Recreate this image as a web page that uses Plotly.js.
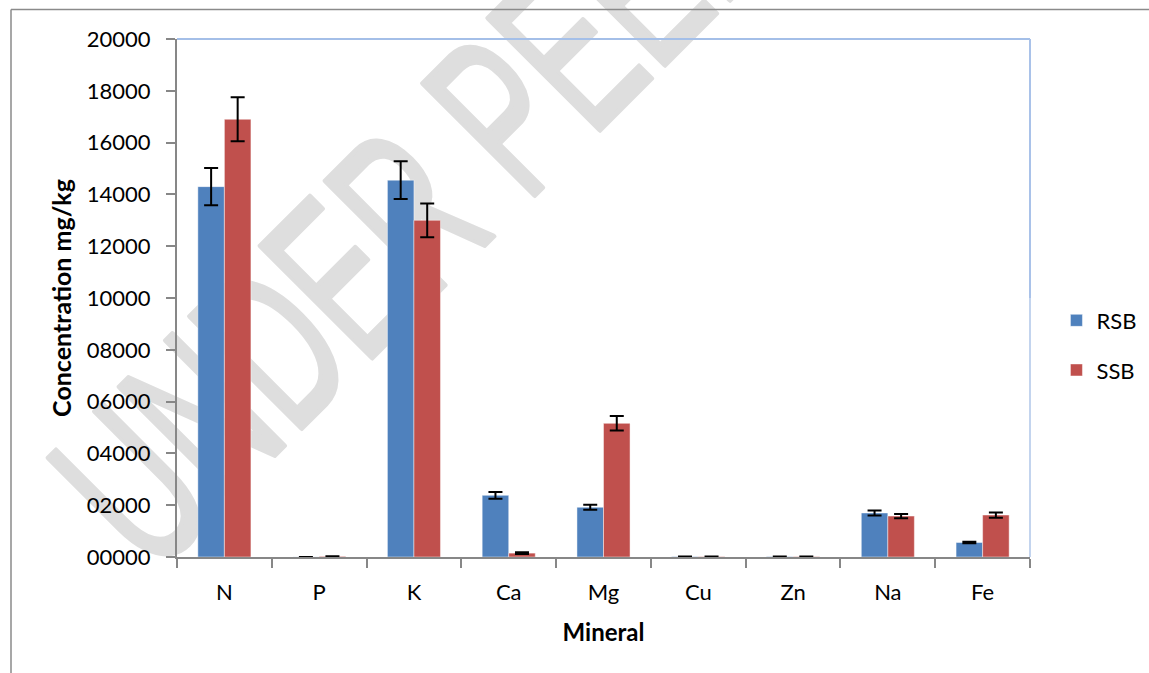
<!DOCTYPE html>
<html>
<head>
<meta charset="utf-8">
<script src="https://cdn.plot.ly/plotly-3.0.1.min.js"></script>
<style>html,body{margin:0;padding:0;background:#fff;}#chart{width:1149px;height:673px;}</style>
</head>
<body>
<div id="chart"></div>
<script>
const minerals = ['N', 'P', 'K', 'Ca', 'Mg', 'Cu', 'Zn', 'Na', 'Fe'];
const rsbValues = [14300, 3, 14550, 2380, 1920, 15, 15, 1700, 560];
const rsbErrors = [720, 0, 730, 130, 100, 5, 5, 100, 30];
const ssbValues = [16900, 25, 13000, 150, 5160, 15, 15, 1580, 1620];
const ssbErrors = [850, 5, 650, 30, 280, 5, 5, 80, 100];
const yTickValues = [0, 2000, 4000, 6000, 8000, 10000, 12000, 14000, 16000, 18000, 20000];
const yTickLabels = ['00000', '02000', '04000', '06000', '08000', '10000', '12000', '14000', '16000', '18000', '20000'];
const watermarkText = 'UNDER PEER REVIEW';

const W = 1149, H = 673, ML = 177, MR = 119, MT = 39, MB = 116;
const PW = W - ML - MR, PH = H - MT - MB;
const px = x => (x - ML) / PW;
const py = y => (H - MB - y) / PH;

const baseFont = 'Lato, "Open Sans", "Liberation Sans", sans-serif';

const traces = [
  {
    type: 'bar', name: 'RSB', x: minerals, y: rsbValues, legendgroup: 'a',
    marker: {color: '#4f81bd', line: {color: 'rgba(255,255,255,0.45)', width: 1}},
    error_y: {type: 'data', array: rsbErrors, visible: true, color: '#000', thickness: 2, width: 7}
  },
  {
    type: 'bar', name: 'SSB', x: minerals, y: ssbValues, legendgroup: 'b',
    marker: {color: '#c0504d', line: {color: 'rgba(255,255,255,0.45)', width: 1}},
    error_y: {type: 'data', array: ssbErrors, visible: true, color: '#000', thickness: 2, width: 7}
  }
];

const layout = {
  width: W, height: H,
  margin: {l: ML, r: MR, t: MT, b: MB, pad: 0, autoexpand: false},
  paper_bgcolor: '#ffffff',
  plot_bgcolor: 'rgba(0,0,0,0)',
  font: {family: baseFont, size: 22, color: '#000'},
  barmode: 'group', bargap: 0.44, bargroupgap: 0,
  showlegend: true,
  legend: {x: 1.031, xanchor: 'left', y: 0.497, yanchor: 'top', traceorder: 'grouped', tracegroupgap: 18,
           font: {family: baseFont, size: 22, color: '#000'}, bgcolor: 'rgba(0,0,0,0)'},
  xaxis: {
    type: 'category', tickson: 'boundaries', ticks: 'outside', ticklen: 9, tickwidth: 2, tickcolor: '#878787',
    showline: true, linecolor: '#878787', linewidth: 2, showgrid: false, zeroline: false,
    ticklabelstandoff: 15, tickfont: {family: baseFont, size: 22, color: '#000'},
    title: {text: '<b>Mineral</b>', font: {family: baseFont, size: 24, color: '#000'}, standoff: 20},
    automargin: false, fixedrange: true
  },
  yaxis: {
    range: [0, 20000], tickvals: yTickValues, ticktext: yTickLabels, ticks: 'outside', ticklen: 9, tickwidth: 2,
    tickcolor: '#878787', showline: true, linecolor: '#878787', linewidth: 2, showgrid: false, zeroline: false,
    ticklabelstandoff: 11, tickfont: {family: baseFont, size: 22, color: '#000'},
    title: {text: '<b>Concentration mg/kg</b>', font: {family: baseFont, size: 25, color: '#000'}, standoff: 8},
    automargin: false, fixedrange: true
  },
  shapes: [
    {type: 'line', xref: 'paper', yref: 'paper', x0: px(150), y0: py(650), x1: px(950), y1: py(-150), layer: 'below',
     line: {color: 'rgba(0,0,0,0)', width: 1},
     label: {text: watermarkText, textposition: 'start', padding: 0,
             font: {family: '"Liberation Sans", Arial, sans-serif', size: 230, color: '#dedede'}}},
    {type: 'line', xref: 'paper', yref: 'paper', x0: 0, y0: 1, x1: 1, y1: 1, line: {color: '#a4bfe8', width: 2}},
    {type: 'line', xref: 'paper', yref: 'paper', x0: 1, y0: 1, x1: 1, y1: 0.5, line: {color: '#a9c2e9', width: 2}},
    {type: 'line', xref: 'paper', yref: 'paper', x0: 1, y0: 0.5, x1: 1, y1: 0, line: {color: '#c3d4ee', width: 2}},
    {type: 'line', xref: 'paper', yref: 'paper', x0: px(11), y0: py(9.5), x1: px(1149), y1: py(9.5), line: {color: '#8a8a8a', width: 1.5}},
    {type: 'line', xref: 'paper', yref: 'paper', x0: px(11), y0: py(9.5), x1: px(11), y1: py(673), line: {color: '#8a8a8a', width: 1.5}}
  ]
};

Plotly.newPlot('chart', traces, layout, {displayModeBar: false, staticPlot: true}).then(function (gd) {
  // narrow, rotated watermark behind the bars
  const t = gd.querySelector('.shape-label-text') || gd.querySelector('.shape-label text');
  if (!t) return;
  const X = 152, Y = 578, sx = 0.6;
  t.querySelectorAll('tspan').forEach(s => { s.removeAttribute('x'); s.removeAttribute('y'); s.removeAttribute('dy'); });
  t.setAttribute('x', X);
  t.setAttribute('y', Y);
  t.removeAttribute('dy');
  t.setAttribute('text-anchor', 'start');
  t.style.textAnchor = 'start';
  t.setAttribute('transform', 'rotate(-45,' + X + ',' + Y + ') translate(' + X + ',' + Y + ') scale(' + sx + ',1) translate(' + (-X) + ',' + (-Y) + ')');
  t.style.stroke = '#dedede';
  t.style.strokeWidth = '5px';
  t.style.strokeLinejoin = 'round';
  const g = t.parentNode;
  if (g && g.removeAttribute) g.removeAttribute('transform');
});
</script>
</body>
</html>
